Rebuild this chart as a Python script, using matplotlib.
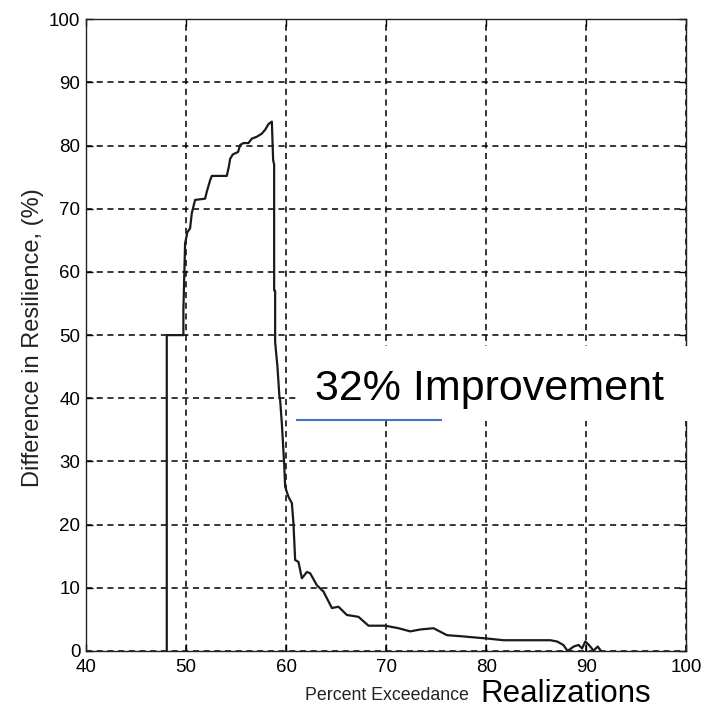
import matplotlib
matplotlib.use('Agg')
import matplotlib.pyplot as plt
from matplotlib.patches import Rectangle
from matplotlib.lines import Line2D

# difference in resilience vs percent exceedance
pct = [48.07, 48.07, 49.73, 49.73, 49.9, 50.13, 50.4, 50.57, 50.9, 51.9, 52.07, 52.4,
       52.57, 54.07, 54.3, 54.4, 54.67, 55.2, 55.4, 55.73, 56.23, 56.57, 57.07, 57.57,
       57.9, 58.23, 58.57, 58.7, 58.8, 58.8, 58.9, 58.9, 59.13, 59.33, 59.4, 59.57,
       59.8, 59.9, 60.23, 60.57, 60.73, 60.9, 61.23, 61.57, 62.07, 62.4, 63.07, 63.73,
       64.57, 65.23, 66.07, 67.23, 68.23, 69.9, 71.23, 72.4, 73.4, 74.73, 76.07, 77.73,
       78.4, 79.9, 81.73, 83.4, 86.4, 87.07, 87.7, 88.13, 88.73, 89.23, 89.57, 89.9,
       90.23, 90.73, 91.13, 91.47]
diff = [0, 50, 50, 53.9, 64.5, 66.3, 66.9, 69.3, 71.4, 71.6, 72.7, 74.5,
        75.2, 75.2, 76.9, 77.9, 78.6, 79.0, 80.1, 80.4, 80.4, 81.1, 81.4, 81.9,
        82.5, 83.4, 83.8, 77.7, 77.0, 57.1, 57.0, 48.9, 45.0, 40.2, 39.7, 36.0,
        29.7, 26.0, 24.4, 23.4, 20.2, 14.4, 14.1, 11.5, 12.5, 12.3, 10.4, 9.4,
        6.8, 7.0, 5.7, 5.4, 4.0, 4.0, 3.6, 3.1, 3.4, 3.6, 2.5, 2.3,
        2.2, 2.0, 1.7, 1.7, 1.7, 1.5, 0.95, 0, 0.7, 0.95, 0.4, 1.5,
        1.0, 0.05, 0.7, 0]

xticks = [40, 50, 60, 70, 80, 90, 100]
yticks = [0, 10, 20, 30, 40, 50, 60, 70, 80, 90, 100]

plt.rcParams['font.family'] = 'Liberation Sans'

fig = plt.figure(figsize=(7.08, 7.13), dpi=100)
ax = fig.add_axes([0.1215, 0.087, 0.848, 0.886])

ax.plot(pct, diff, color='#1a1a1a', lw=1.6, zorder=3)

ax.set_xlim(40, 100)
ax.set_ylim(0, 100)
ax.set_xticks(xticks)
ax.set_yticks(yticks)
ax.grid(True, color='k', linestyle=(0, (4, 3)), linewidth=1.1)
ax.tick_params(direction='in', length=5, width=1, top=True, right=True, colors='k',
               labelsize=13.5)
ax.tick_params(axis='x', pad=6)
ax.tick_params(axis='y', pad=4)
for s in ax.spines.values():
    s.set_linewidth(1.0)
    s.set_color('#222222')

fig.text(0.047, 0.527, 'Difference in Resilience, (%)', rotation=90, ha='center', va='center',
         fontsize=17, color='#222222')
fig.text(0.431, 0.018, 'Percent Exceedance', fontsize=12.8, color='#222222')
fig.text(0.678, 0.016, 'Realizations', fontsize=22.5)

# white label box pasted over the plot
fig.patches.append(Rectangle((0.4195, 0.4095), 0.56, 0.105, transform=fig.transFigure,
                             facecolor='white', edgecolor='none', zorder=5))
fig.text(0.445, 0.439, '32% Improvement', fontsize=31, zorder=6)
fig.lines.append(Line2D([0.4195, 0.623], [0.411, 0.411], transform=fig.transFigure,
                        color='#4472C4', lw=1.5, zorder=6))

plt.savefig('out.png', dpi=100)
